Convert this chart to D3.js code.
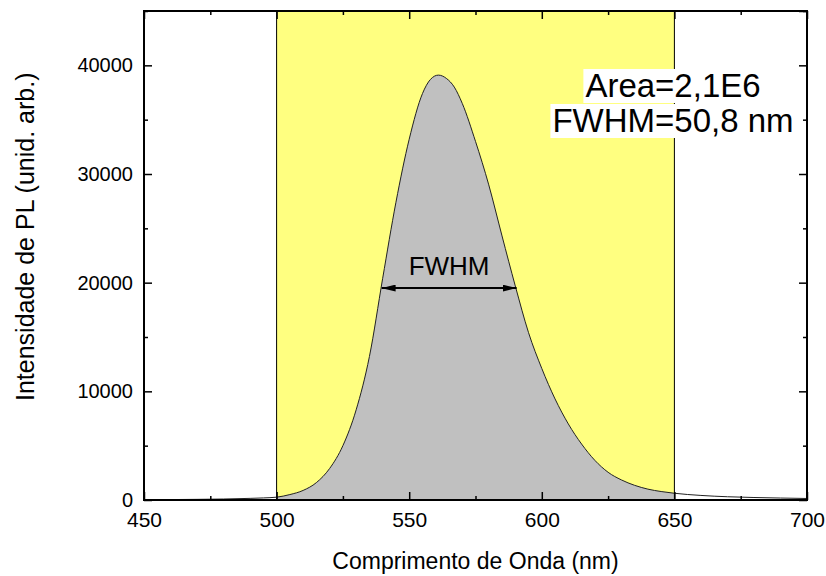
<!DOCTYPE html>
<html>
<head>
<meta charset="utf-8">
<script src="https://cdn.jsdelivr.net/npm/d3@7"></script>
<style>
  body { margin: 0; background: #fff; }
  text { font-family: "Liberation Sans", Arial, sans-serif; }
</style>
</head>
<body>
<svg id="chart" width="826" height="576"></svg>
<script>
// PL spectrum
const wavelength = [450, 460, 470, 480, 490, 495, 500, 505, 510, 515, 520, 525, 530, 535, 540, 545, 550, 555, 558, 561, 564, 567, 570, 575, 580, 585, 590, 595, 600, 605, 610, 615, 620, 625, 630, 635, 640, 645, 650, 660, 670, 680, 690, 700];
const intensity  = [20, 40, 60, 90, 150, 190, 260, 500, 880, 1600, 2900, 5000, 8300, 13200, 20400, 27400, 33200, 37400, 38700, 39100, 38800, 38000, 36500, 33000, 29000, 24300, 19700, 15400, 12100, 9300, 7000, 5150, 3650, 2550, 1850, 1350, 1000, 780, 620, 420, 300, 230, 180, 140];

const xTicks = [450, 500, 550, 600, 650, 700];
const yTicks = [0, 10000, 20000, 30000, 40000];
const band = [500, 650];          // integration window
const fwhmEnds = [539.6, 590.5];  // half max positions
const halfMax = 19500;
const notes = ["Area=2,1E6", "FWHM=50,8 nm"];

const margin = {top: 11, right: 19, bottom: 76, left: 144};
const W = 826 - margin.left - margin.right,
      H = 576 - margin.top - margin.bottom;

const svg = d3.select("#chart");
const g = svg.append("g").attr("transform", `translate(${margin.left},${margin.top})`);

const x = d3.scaleLinear().domain([450, 700]).range([0, W]);
const y = d3.scaleLinear().domain([0, 45000]).range([H, 0]);

const data = wavelength.map((w, i) => ({w: w, v: intensity[i]}));

// yellow band
g.append("rect")
  .attr("x", x(band[0])).attr("y", 0)
  .attr("width", x(band[1]) - x(band[0])).attr("height", H)
  .attr("fill", "#ffff80");

// grey area under the curve inside band
const inBand = data.filter(d => d.w >= band[0] && d.w <= band[1]);
g.append("path")
  .datum(inBand)
  .attr("fill", "#c0c0c0")
  .attr("d", d3.area().x(d => x(d.w)).y0(H).y1(d => y(d.v)).curve(d3.curveMonotoneX));

// band edges
band.forEach(b => {
  g.append("line")
    .attr("x1", x(b)).attr("x2", x(b)).attr("y1", 0).attr("y2", H)
    .attr("stroke", "#000").attr("stroke-width", 1);
});

// spectrum line
g.append("path")
  .datum(data)
  .attr("fill", "none")
  .attr("stroke", "#222")
  .attr("stroke-width", 1)
  .attr("d", d3.line().x(d => x(d.w)).y(d => y(d.v)).curve(d3.curveMonotoneX));

// axes, ticks pointing inward
const minorX = d3.range(475, 700, 50);
const minorY = d3.range(5000, 45001, 10000);

const fmt = d3.format("d");
const xAxisG = g.append("g").attr("transform", `translate(0,${H})`)
  .call(d3.axisBottom(x).tickValues(xTicks).tickSize(-8).tickPadding(12).tickFormat(fmt));
g.append("g")
  .call(d3.axisTop(x).tickValues(xTicks).tickSize(-8).tickFormat(""));
const yAxisG = g.append("g")
  .call(d3.axisLeft(y).tickValues(yTicks).tickSize(-8).tickPadding(11).tickFormat(fmt));
g.append("g").attr("transform", `translate(${W},0)`)
  .call(d3.axisRight(y).tickValues(yTicks.concat([45000])).tickSize(-8).tickFormat(""));

g.append("g").attr("transform", `translate(0,${H})`)
  .call(d3.axisBottom(x).tickValues(minorX).tickSize(-4).tickFormat(""));
g.append("g")
  .call(d3.axisTop(x).tickValues(minorX).tickSize(-4).tickFormat(""));
g.append("g")
  .call(d3.axisLeft(y).tickValues(minorY).tickSize(-4).tickFormat(""));
g.append("g").attr("transform", `translate(${W},0)`)
  .call(d3.axisRight(y).tickValues(minorY).tickSize(-4).tickFormat(""));

g.selectAll(".domain").remove();
g.selectAll(".tick line").attr("stroke", "#000").attr("stroke-width", 1.5);
g.selectAll(".tick text").attr("fill", "#000")
  .style("font-family", "'Liberation Sans', Arial, sans-serif");
xAxisG.selectAll(".tick text").style("font-size", "21px");
yAxisG.selectAll(".tick text").style("font-size", "20px");

// frame
g.append("rect")
  .attr("width", W).attr("height", H)
  .attr("fill", "none").attr("stroke", "#000").attr("stroke-width", 2);

// FWHM arrow
const defs = svg.append("defs");
["start", "end"].forEach(k => {
  defs.append("marker")
    .attr("id", "arr-" + k)
    .attr("viewBox", "0 0 10 10")
    .attr("refX", k === "end" ? 10 : 0).attr("refY", 5)
    .attr("markerWidth", 14).attr("markerHeight", 7)
    .attr("markerUnits", "userSpaceOnUse")
    .attr("orient", "auto")
    .attr("preserveAspectRatio", "none")
    .append("path")
    .attr("d", k === "end" ? "M0,0 L10,5 L0,10 Z" : "M10,0 L0,5 L10,10 Z")
    .attr("fill", "#000");
});
g.append("line")
  .attr("x1", x(fwhmEnds[0])).attr("x2", x(fwhmEnds[1]))
  .attr("y1", y(halfMax)).attr("y2", y(halfMax))
  .attr("stroke", "#000").attr("stroke-width", 2)
  .attr("marker-start", "url(#arr-start)")
  .attr("marker-end", "url(#arr-end)");
g.append("text")
  .attr("x", x((fwhmEnds[0] + fwhmEnds[1]) / 2)).attr("y", 275 - margin.top)
  .attr("text-anchor", "middle")
  .style("font-size", "26px")
  .text("FWHM");

// annotation text with white backing
const noteY = [97, 132];
notes.forEach((t, i) => {
  const txt = svg.append("text")
    .attr("x", 673).attr("y", noteY[i])
    .attr("text-anchor", "middle")
    .style("font-size", "33px")
    .text(t);
  const bb = txt.node().getBBox();
  svg.insert("rect", () => txt.node())
    .attr("x", bb.x - 2).attr("y", noteY[i] - 28)
    .attr("width", bb.width + 3).attr("height", 34)
    .attr("fill", "#fff");
});

// axis titles
svg.append("text")
  .attr("x", margin.left + W / 2).attr("y", 569)
  .attr("text-anchor", "middle")
  .style("font-size", "23px")
  .text("Comprimento de Onda (nm)");
svg.append("text")
  .attr("transform", "translate(34,401) rotate(-90)")
  .attr("text-anchor", "start")
  .style("font-size", "25px")
  .text("Intensidade de PL (unid. arb.)");
</script>
</body>
</html>
